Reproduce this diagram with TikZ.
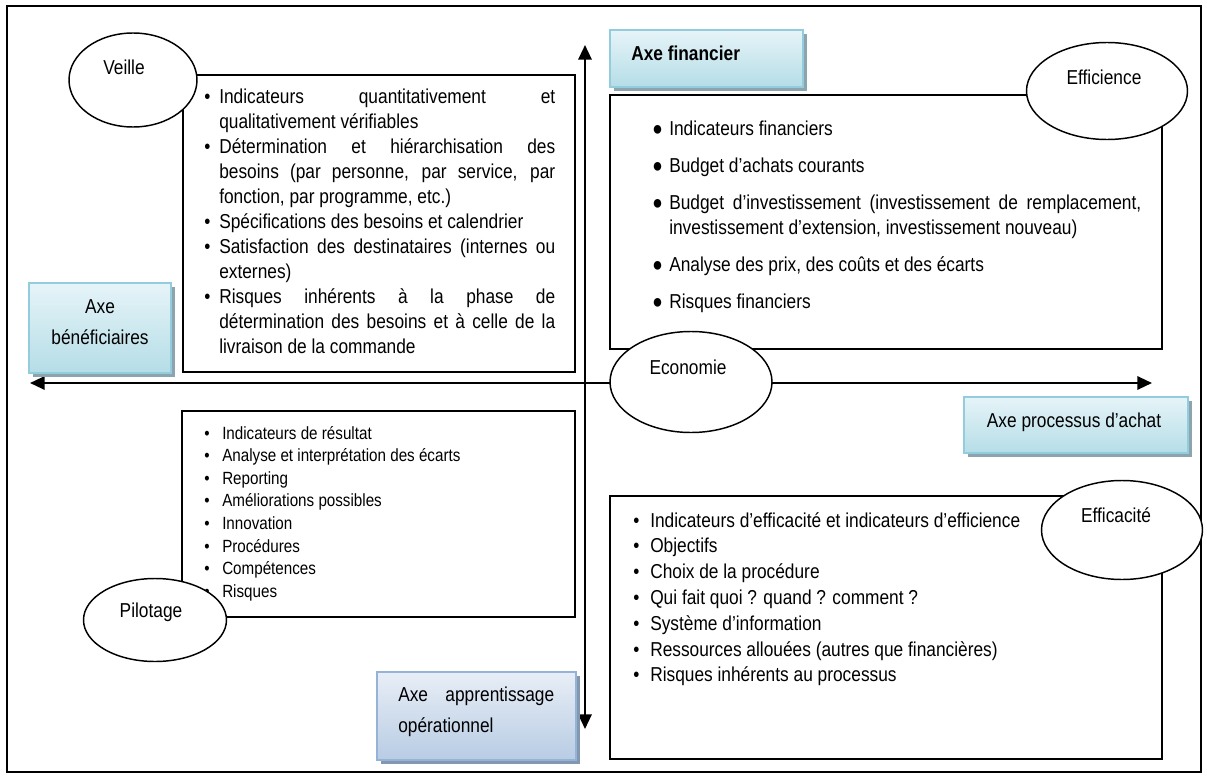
\documentclass[tikz,border=0pt]{standalone}
\usepackage{fontspec}
\setmainfont{Liberation Sans}[FakeStretch=0.86]
\usetikzlibrary{shapes.geometric,arrows.meta}
\definecolor{cyTop}{HTML}{E6F4F8}
\definecolor{cyBot}{HTML}{B5DDE7}
\definecolor{cyBorder}{HTML}{93CDDD}
\definecolor{cyShadow}{HTML}{8CA4AE}
\definecolor{blTop}{HTML}{E8EEF6}
\definecolor{blBot}{HTML}{B8CCE4}
\definecolor{blBorder}{HTML}{95B3D7}
\definecolor{blShadow}{HTML}{8497B0}
\newcommand{\myitem}[2]{\par\noindent\hangindent=#1\hangafter=1\hbox to #1{#2\hss}\ignorespaces}
\newcommand{\listsetup}{\hyphenpenalty=10000\exhyphenpenalty=10000\tolerance=9999\emergencystretch=2em\parindent=0pt\rightskip=0pt}
\tikzset{
  ell/.style={ellipse, draw, fill=white, line width=1.1pt, inner sep=0pt},
  box/.style={draw, line width=1.1pt},
  axis/.style={line width=1.6pt, {Triangle[length=11pt,width=10pt]}-{Triangle[length=11pt,width=10pt]}},
  cyanbox/.style={top color=cyTop, bottom color=cyBot, draw=cyBorder, line width=1.6pt},
  bluebox/.style={top color=blTop, bottom color=blBot, draw=blBorder, line width=1.6pt},
  txt/.style={inner sep=0pt, font=\fontsize{15.1}{18}\selectfont},
}
\begin{document}
\begin{tikzpicture}[x=0.75pt, y=-0.75pt]
\useasboundingbox (0,0) rectangle (1207,778);
% outer frame
\draw[line width=1.1pt] (7,6) rectangle (1201,772);
% axes
\coordinate (axTop) at (585,45);
\coordinate (axBot) at (585,729);
\coordinate (axL) at (30,383);
\coordinate (axR) at (1152,383);
\draw[axis] (axTop) -- (axBot);
\draw[axis] (axL) -- (axR);
% content boxes
\draw[box] (183,75) rectangle (575,372);
\draw[box] (610,95) rectangle (1162,349);
\draw[box] (182,411) rectangle (575,617);
\draw[box] (610,496) rectangle (1162,759);
% axis label boxes
\fill[cyShadow] (33,287) rectangle (175,377);
\path[cyanbox] (29,283) rectangle (171,373);
\fill[cyShadow] (614,34) rectangle (807,91);
\path[cyanbox] (610,30) rectangle (803,87);
\fill[cyShadow] (968,401) rectangle (1192,457);
\path[cyanbox] (964,397) rectangle (1188,453);
\fill[blShadow] (381,676) rectangle (580,764);
\path[bluebox] (377,672) rectangle (576,760);
% axis labels
\node[txt, align=center, font=\fontsize{15.1}{23.25}\selectfont] (benef) at (100,322) {Axe\\bénéficiaires};
\node[txt, anchor=west, font=\bfseries\fontsize{15.1}{18}\selectfont] (fin) at (631,53) {Axe financier};
\node[txt] (proc) at (1074,422) {Axe processus d’achat};
\node[txt, anchor=west] (appr) at (398,712) {\parbox{117pt}{\fontsize{15.1}{23.25}\selectfont Axe apprentissage\linebreak opérationnel}};
% list texts
\node[txt, anchor=base west] (veilleList) at (204,103) {\parbox[t]{263.25pt}{\fontsize{15.1}{18.75}\selectfont\listsetup
\myitem{11.25pt}{\textbullet}Indicateurs quantitativement et\linebreak qualitativement vérifiables
\myitem{11.25pt}{\textbullet}Détermination et hiérarchisation des\linebreak besoins (par personne, par service, par\linebreak fonction, par programme, etc.)
\myitem{11.25pt}{\textbullet}Spécifications des besoins et calendrier
\myitem{11.25pt}{\textbullet}Satisfaction des destinataires (internes ou\linebreak externes)
\myitem{11.25pt}{\textbullet}Risques inhérents à la phase de\linebreak détermination des besoins et à celle de la\linebreak livraison de la commande\par}};
\node[txt, anchor=base west] (finList) at (652,135) {\parbox[t]{366.75pt}{\fontsize{15.1}{18.75}\selectfont\listsetup\parskip=9pt
\myitem{12.75pt}{●}Indicateurs financiers
\myitem{12.75pt}{●}Budget d’achats courants
\myitem{12.75pt}{●}Budget d’investissement (investissement de remplacement,\linebreak investissement d’extension, investissement nouveau)
\myitem{12.75pt}{●}Analyse des prix, des coûts et des écarts
\myitem{12.75pt}{●}Risques financiers\par}};
\node[txt, anchor=base west] (pilList) at (204,439) {\parbox[t]{270pt}{\fontsize{13.25}{16.95}\selectfont\listsetup
\myitem{13.5pt}{\textbullet}Indicateurs de résultat
\myitem{13.5pt}{\textbullet}Analyse et interprétation des écarts
\myitem{13.5pt}{\textbullet}Reporting
\myitem{13.5pt}{\textbullet}Améliorations possibles
\myitem{13.5pt}{\textbullet}Innovation
\myitem{13.5pt}{\textbullet}Procédures
\myitem{13.5pt}{\textbullet}Compétences
\myitem{13.5pt}{\textbullet}Risques\par}};
\node[txt, anchor=base west] (effList) at (633,527) {\parbox[t]{315pt}{\fontsize{15.1}{19.35}\selectfont\listsetup
\myitem{12.75pt}{\textbullet}Indicateurs d’efficacité et indicateurs d’efficience
\myitem{12.75pt}{\textbullet}Objectifs
\myitem{12.75pt}{\textbullet}Choix de la procédure
\myitem{12.75pt}{\textbullet}Qui fait quoi ? quand ? comment ?
\myitem{12.75pt}{\textbullet}Système d’information
\myitem{12.75pt}{\textbullet}Ressources allouées (autres que financières)
\myitem{12.75pt}{\textbullet}Risques inhérents au processus\par}};
% ellipses
\node[ell, minimum width=96pt, minimum height=70.5pt] (veille) at (133,80) {};
\node[ell, minimum width=120.75pt, minimum height=72.75pt] (efficience) at (1107,91) {};
\node[ell, minimum width=121.5pt, minimum height=75.75pt] (economie) at (691,382) {};
\node[ell, minimum width=120.75pt, minimum height=74.25pt] (efficacite) at (1122,530) {};
\node[ell, minimum width=107.25pt, minimum height=62.25pt] (pilotage) at (155,620) {};
\node[txt] (veilleT) at (124,67) {Veille};
\node[txt] (efficienceT) at (1104,77) {Efficience};
\node[txt] (economieT) at (688,367) {Economie};
\node[txt] (efficaciteT) at (1116,515) {Efficacité};
\node[txt] (pilotageT) at (151,612) {Pilotage};
\end{tikzpicture}
\end{document}
